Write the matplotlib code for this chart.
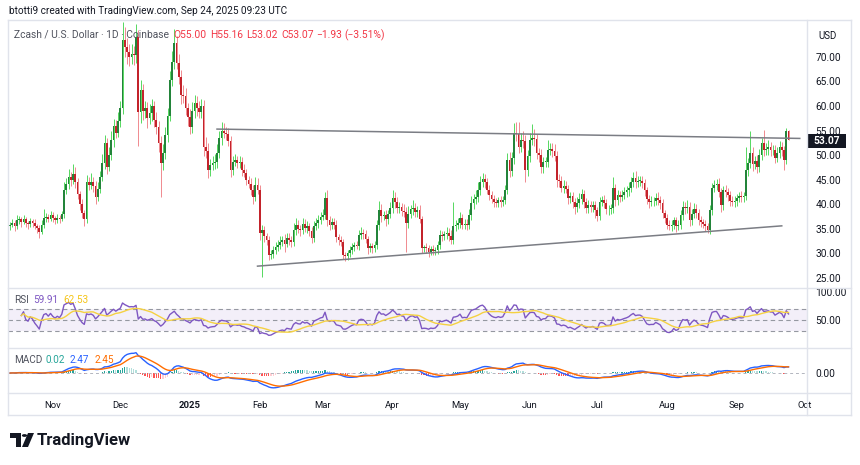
import matplotlib
matplotlib.use("Agg")
import matplotlib.pyplot as plt
import matplotlib.dates as mdates
from matplotlib.lines import Line2D
from matplotlib.patches import Rectangle, Polygon, Circle
import numpy as np
import pandas as pd

plt.rcParams['font.family'] = ['Roboto', 'DejaVu Sans']

# ---- data (daily Zcash / USD) ----
start_date = "2024-10-13"
first_open = 35.5
closes = [
    35.8, 36.2, 35.5, 36.8, 37.0, 36.4, 36.9, 36.1, 35.9, 36.5,
    36.2, 35.6, 35.1, 34.4, 35.8, 37.2, 37.5, 37.0, 37.8, 37.2,
    36.8, 37.3, 37.0, 38.0, 43.0, 44.2, 45.5, 45.0, 46.2, 44.5,
    42.0, 40.1, 38.2, 37.0, 44.5, 44.0, 44.6, 43.8, 41.5, 43.2,
    45.5, 48.4, 52.5, 47.6, 50.0, 53.0, 56.0, 54.5, 57.0, 59.5,
    73.5, 72.0, 71.0, 70.0, 70.5, 70.3, 74.0, 58.8, 63.3, 59.0,
    59.5, 57.5, 58.6, 60.0, 57.2, 55.7, 52.5, 48.4, 50.5, 54.0,
    58.0, 65.3, 69.0, 72.8, 68.8, 66.0, 62.3, 62.0, 59.5, 57.8,
    55.7, 59.0, 60.6, 59.5, 58.8, 60.0, 51.7, 50.9, 47.0, 48.0,
    48.4, 48.6, 50.5, 53.5, 55.0, 54.5, 54.2, 52.8, 47.0, 48.6,
    49.0, 48.4, 48.6, 47.0, 46.4, 45.0, 44.2, 43.0, 41.5, 44.0,
    43.0, 34.2, 34.8, 33.5, 32.7, 29.7, 29.9, 30.6, 31.3, 31.8,
    32.4, 32.7, 32.0, 33.2, 32.7, 32.4, 34.8, 35.8, 35.0, 34.8,
    36.0, 35.2, 35.5, 34.6, 33.1, 35.5, 36.2, 36.8, 37.5, 37.8,
    41.3, 36.8, 35.8, 36.4, 35.8, 33.3, 32.8, 32.3, 29.7, 29.5,
    30.0, 30.7, 31.3, 31.7, 31.5, 33.7, 34.2, 34.0, 33.0, 31.0,
    31.4, 31.0, 31.7, 35.8, 38.8, 37.6, 37.8, 37.0, 38.0, 39.2,
    41.3, 40.5, 39.2, 39.5, 38.7, 38.5, 36.2, 38.0, 39.0, 39.2,
    38.5, 38.8, 37.0, 31.0, 31.2, 31.0, 30.3, 30.8, 30.5, 30.7,
    31.7, 33.7, 33.5, 33.9, 34.2, 33.6, 32.8, 35.6, 35.8, 36.2,
    37.3, 35.8, 36.0, 35.8, 37.8, 40.3, 41.0, 41.5, 43.0, 44.5,
    45.2, 44.5, 43.0, 41.9, 41.0, 40.5, 40.3, 40.8, 40.5, 40.8,
    43.0, 49.0, 46.8, 49.4, 54.5, 54.3, 51.7, 53.0, 52.8, 47.0,
    49.8, 53.0, 53.5, 53.2, 50.4, 50.0, 47.6, 48.6, 48.7, 51.0,
    51.2, 50.8, 49.8, 45.0, 44.8, 43.4, 43.8, 43.2, 41.3, 41.6,
    40.5, 39.5, 40.3, 41.0, 42.0, 40.5, 39.2, 39.8, 39.5, 39.8,
    38.8, 37.7, 40.5, 40.8, 40.3, 39.0, 39.0, 39.2, 43.3, 40.8,
    41.9, 41.5, 41.9, 42.4, 42.8, 43.4, 44.5, 45.4, 44.5, 44.8,
    44.8, 44.3, 42.8, 41.0, 40.5, 40.6, 40.6, 41.3, 40.8, 40.2,
    38.2, 37.2, 35.8, 35.5, 35.8, 36.7, 35.5, 35.8, 37.8, 39.5,
    39.2, 39.5, 36.7, 38.0, 39.0, 38.3, 36.8, 36.3, 36.0, 35.5,
    34.8, 38.8, 43.3, 44.0, 44.2, 42.5, 39.8, 42.8, 42.5, 41.8,
    40.7, 40.5, 40.7, 41.3, 41.6, 41.4, 41.6, 47.0, 48.3, 50.4,
    48.2, 48.9, 47.5, 50.0, 52.5, 51.0, 51.2, 51.6, 51.0, 51.0,
    49.5, 50.5, 51.6, 51.0, 49.0, 55.0, 53.07,
]
# upper / lower wick length beyond the body
wick_up = [
    0.6, 0.8, 0.5, 1.0, 0.7, 0.5, 0.9, 0.6, 0.4, 0.8,
    0.5, 0.7, 0.4, 0.6, 0.9, 1.8, 0.8, 0.5, 0.9, 0.6,
    0.5, 0.8, 0.6, 0.7, 1.5, 1.2, 1.6, 1.0, 1.9, 1.4,
    0.8, 0.6, 0.9, 0.7, 1.5, 1.1, 1.7, 0.9, 1.0, 1.4,
    1.2, 1.8, 1.5, 1.0, 1.6, 1.9, 1.4, 1.2, 1.8, 1.5,
    3.5, 2.5, 1.8, 1.6, 2.2, 1.8, 2.6, 1.5, 1.9, 1.2,
    1.5, 1.3, 1.8, 1.4, 1.0, 1.6, 1.2, 1.3, 1.7, 1.8,
    1.6, 1.9, 2.2, 2.8, 1.5, 1.8, 1.4, 2.0, 1.6, 1.2,
    1.5, 1.8, 1.7, 1.4, 1.6, 1.4, 1.2, 1.9, 1.5, 1.3,
    1.4, 1.6, 1.7, 1.5, 1.8, 1.5, 1.2, 1.4, 1.0, 1.3,
    1.2, 0.9, 1.3, 1.0, 1.1, 0.8, 0.7, 1.2, 0.9, 1.6,
    1.4, 0.9, 1.0, 0.8, 0.6, 0.9, 0.7, 0.8, 1.0, 0.9,
    1.1, 0.8, 1.2, 0.9, 1.0, 0.8, 1.3, 1.5, 1.0, 0.8,
    1.2, 0.9, 1.0, 0.7, 0.8, 1.0, 0.9, 1.1, 1.0, 1.2,
    1.2, 1.5, 0.9, 0.8, 0.9, 1.0, 0.7, 0.8, 0.6, 0.5,
    0.7, 0.8, 0.9, 0.6, 0.9, 1.0, 1.2, 0.8, 0.7, 0.6,
    0.8, 0.7, 0.9, 1.0, 1.8, 1.2, 0.9, 1.0, 0.8, 1.2,
    1.5, 1.2, 0.9, 1.0, 0.8, 1.4, 1.0, 1.6, 0.9, 1.7,
    1.1, 0.8, 1.0, 0.7, 0.6, 0.9, 0.7, 0.8, 0.9, 0.6,
    0.8, 1.0, 0.9, 0.7, 1.1, 0.9, 1.2, 4.8, 0.9, 1.0,
    1.1, 0.8, 1.0, 0.9, 1.2, 1.3, 1.1, 1.4, 1.6, 1.2,
    1.2, 0.9, 0.8, 1.0, 0.7, 0.9, 0.8, 0.7, 0.9, 0.8,
    1.0, 1.5, 1.6, 1.2, 2.0, 2.2, 2.4, 1.6, 1.9, 1.3,
    1.2, 1.6, 2.8, 1.8, 1.2, 1.0, 1.3, 1.1, 1.0, 2.1,
    1.3, 1.2, 1.4, 1.0, 1.1, 0.9, 1.2, 1.0, 0.8, 0.9,
    0.9, 0.8, 1.1, 1.3, 1.2, 0.9, 0.8, 1.0, 0.8, 0.9,
    0.8, 0.7, 1.0, 0.9, 1.1, 0.8, 0.9, 0.8, 2.2, 0.9,
    1.0, 0.8, 0.9, 1.1, 1.0, 1.2, 1.1, 1.2, 1.4, 1.0,
    0.9, 1.0, 0.8, 0.7, 0.9, 1.0, 0.8, 0.9, 1.2, 0.8,
    0.9, 0.7, 0.8, 0.9, 1.0, 0.8, 0.7, 0.9, 1.1, 1.2,
    1.0, 1.3, 0.9, 1.1, 1.3, 1.0, 0.8, 0.9, 0.7, 0.8,
    0.6, 1.0, 1.1, 1.0, 0.9, 1.2, 0.8, 1.0, 1.1, 0.9,
    0.8, 0.9, 1.0, 0.8, 0.9, 1.0, 0.8, 4.7, 1.2, 4.6,
    1.2, 1.0, 1.1, 1.3, 1.0, 2.7, 1.2, 1.4, 1.0, 1.1,
    1.0, 1.2, 1.3, 1.0, 0.9, 0.5, 0.16,
]
wick_dn = [
    0.7, 0.5, 0.9, 0.6, 0.8, 1.0, 0.5, 0.7, 0.9, 0.6,
    0.8, 0.6, 0.9, 1.2, 0.5, 0.6, 0.9, 0.7, 0.5, 0.8,
    0.9, 0.6, 0.8, 0.5, 0.7, 0.9, 1.0, 1.2, 0.8, 1.1,
    0.9, 1.2, 1.0, 1.4, 0.8, 1.0, 0.9, 1.3, 1.5, 0.9,
    1.0, 0.8, 1.2, 1.5, 0.9, 1.0, 1.3, 1.1, 0.9, 1.2,
    1.2, 2.0, 2.5, 1.8, 1.5, 2.0, 1.6, 7.0, 2.2, 1.8,
    1.4, 1.9, 1.2, 1.6, 1.5, 1.4, 1.8, 7.0, 1.5, 1.2,
    1.4, 1.0, 1.3, 1.5, 1.2, 1.6, 1.8, 1.4, 1.3, 1.9,
    1.5, 1.2, 1.4, 1.6, 1.3, 1.2, 1.8, 1.5, 1.6, 1.2,
    1.0, 1.3, 1.2, 1.0, 1.4, 1.1, 1.2, 1.0, 1.5, 1.1,
    0.9, 1.1, 1.0, 1.3, 0.8, 1.0, 0.9, 1.2, 1.5, 0.8,
    1.0, 1.5, 9.0, 1.2, 1.0, 1.1, 0.8, 0.9, 0.7, 0.8,
    0.9, 1.0, 1.8, 0.8, 0.9, 1.1, 0.8, 1.0, 0.9, 1.2,
    0.8, 0.9, 1.0, 1.1, 0.9, 0.8, 0.7, 1.0, 0.9, 0.8,
    0.9, 1.2, 1.0, 0.8, 0.9, 1.0, 1.1, 0.9, 0.8, 1.0,
    0.8, 0.7, 0.9, 0.8, 0.7, 0.9, 0.8, 1.0, 0.9, 1.1,
    0.8, 0.9, 0.7, 0.8, 1.0, 1.2, 0.9, 1.4, 1.0, 0.8,
    1.0, 1.2, 1.0, 0.9, 1.1, 1.0, 6.0, 1.0, 0.9, 1.2,
    1.0, 1.1, 0.9, 1.0, 0.8, 0.9, 1.0, 0.7, 0.8, 0.9,
    0.8, 0.9, 1.0, 0.8, 0.9, 1.0, 0.8, 0.9, 1.0, 0.8,
    1.0, 0.9, 0.8, 1.1, 0.9, 1.0, 1.2, 0.9, 1.0, 1.1,
    1.0, 1.2, 0.9, 1.1, 0.8, 1.0, 0.9, 0.8, 1.0, 0.9,
    0.8, 1.0, 1.2, 1.0, 1.3, 1.5, 1.2, 1.1, 1.4, 2.5,
    1.3, 1.2, 1.0, 1.4, 1.1, 1.5, 1.2, 1.3, 1.0, 1.2,
    1.0, 1.2, 0.9, 1.4, 1.2, 1.0, 1.1, 0.9, 1.3, 1.0,
    1.2, 1.4, 1.0, 1.1, 0.9, 1.2, 1.0, 0.9, 1.1, 1.0,
    1.6, 1.2, 1.0, 0.9, 1.1, 1.0, 1.2, 0.9, 1.0, 1.1,
    0.9, 1.0, 0.8, 0.9, 1.0, 1.1, 0.9, 1.0, 1.1, 0.9,
    1.0, 0.9, 1.1, 1.0, 1.2, 0.9, 1.0, 0.8, 0.9, 1.1,
    1.0, 1.1, 0.9, 0.8, 1.0, 0.9, 1.1, 0.8, 0.9, 1.0,
    1.1, 0.9, 1.2, 1.0, 0.9, 1.1, 1.0, 0.9, 0.8, 1.0,
    0.7, 0.8, 1.0, 0.9, 1.1, 1.0, 1.4, 0.9, 1.0, 1.1,
    1.0, 0.9, 1.1, 1.0, 0.8, 0.9, 1.0, 0.8, 1.2, 1.0,
    1.4, 1.0, 1.2, 1.0, 0.9, 1.1, 1.0, 1.2, 1.1, 1.0,
    1.2, 0.9, 1.0, 1.1, 2.0, 0.8, 0.05,
]

# trend lines drawn on the chart (date, price)
upper_line_dates = ["2025-01-13", "2025-09-29"]
upper_line_prices = [55.3, 53.4]
lower_line_dates = ["2025-01-31", "2025-09-21"]
lower_line_prices = [27.4, 35.6]

price_ticks = [25, 30, 35, 40, 45, 50, 55, 60, 65, 70]
month_ticks = ["2024-11-01", "2024-12-01", "2025-01-01", "2025-02-01", "2025-03-01",
               "2025-04-01", "2025-05-01", "2025-06-01", "2025-07-01", "2025-08-01",
               "2025-09-01", "2025-10-01"]
month_labels = ["Nov", "Dec", "2025", "Feb", "Mar", "Apr", "May", "Jun", "Jul", "Aug", "Sep", "Oct"]

# ---- derived ----
c = np.array(closes)
o = np.concatenate([[first_open], c[:-1]])
hi = np.maximum(o, c) + np.array(wick_up)
lo = np.minimum(o, c) - np.array(wick_dn)
dates = pd.date_range(start_date, periods=len(c), freq="D")
x = mdates.date2num(dates)
up = c >= o

s = pd.Series(c)
d = s.diff()
gain = d.clip(lower=0).ewm(alpha=1 / 14, adjust=True).mean()
loss = (-d.clip(upper=0)).ewm(alpha=1 / 14, adjust=True).mean()
rsi = 100 - 100 / (1 + gain / loss)
rsi[:5] = np.nan  # no history before the first candle
rsi_ma = rsi.rolling(14, min_periods=1).mean()
macd = s.ewm(span=12, adjust=False).mean() - s.ewm(span=26, adjust=False).mean()
signal = macd.ewm(span=9, adjust=False).mean()
hist = macd - signal

W, H = 860, 465
fig = plt.figure(figsize=(W / 100, H / 100), dpi=100)
fig.patch.set_facecolor("white")


def rect(x0, y0, x1, y1):
    return [x0 / W, 1 - y1 / H, (x1 - x0) / W, (y1 - y0) / H]


def fp(px, py):
    return (px / W, 1 - py / H)


ax = fig.add_axes(rect(8, 22, 807, 288))
ax_rsi = fig.add_axes(rect(8, 288, 807, 348), sharex=ax)
ax_macd = fig.add_axes(rect(8, 348, 807, 393), sharex=ax)

GREEN_B, GREEN_W = "#23843a", "#55d860"
RED_B, RED_W = "#c3232b", "#f08a8f"

wc = np.where(up, GREEN_W, RED_W)
bc = np.where(up, GREEN_B, RED_B)
ax.vlines(x, lo, hi, colors=wc, linewidth=0.7, zorder=2)
body = np.maximum(np.abs(c - o), 0.12)
ax.bar(x, body, bottom=np.minimum(o, c), width=0.72, color=bc, linewidth=0, zorder=3)

ax.plot(mdates.datestr2num(upper_line_dates), upper_line_prices, color="#7b7d84", lw=1.1, zorder=4)
ax.plot(mdates.datestr2num(lower_line_dates), lower_line_prices, color="#7b7d84", lw=1.1, zorder=4)

x_left = x[0] - 0.9
x_right = x[0] + (807 - 10) / 2.25
ax.set_xlim(x_left, x_right)
ax.set_ylim(22.95, 77.1)

for a in (ax, ax_rsi, ax_macd):
    for sp in a.spines.values():
        sp.set_visible(False)
    a.yaxis.tick_right()
    a.tick_params(axis="y", length=0, pad=6, labelsize=7.3, labelcolor="#131722")
    a.tick_params(axis="x", length=0)
    a.set_facecolor("white")

ax.set_yticks(price_ticks)
ax.set_yticklabels(["%.2f" % v for v in price_ticks])
ax.tick_params(axis="x", labelbottom=False)
ax_rsi.tick_params(axis="x", labelbottom=False)

# RSI pane
ax_rsi.axhspan(30, 70, color="#7e57c2", alpha=0.09, lw=0)
for lvl in (70, 50, 30):
    ax_rsi.axhline(lvl, color="#9598a1", lw=0.8, ls=(0, (4, 3)))
ax_rsi.plot(x, rsi, color="#7e57c2", lw=1.0)
ax_rsi.plot(x, rsi_ma, color="#f5d142", lw=1.0)
ax_rsi.set_ylim(-0.5, 107.7)
ax_rsi.set_yticks([50, 100])
ax_rsi.set_yticklabels(["50.00", "100.00"])

# MACD pane
hc = []
for i in range(len(hist)):
    prev = hist[i - 1] if i > 0 else 0
    if hist[i] >= 0:
        hc.append("#26a69a" if hist[i] >= prev else "#b2dfdb")
    else:
        hc.append("#ff5252" if hist[i] < prev else "#ffcdd2")
ax_macd.bar(x, hist, width=0.6, color=hc, linewidth=0)
ax_macd.axhline(0, color="#b2b5be", lw=0.7, ls=(0, (3, 3)))
ax_macd.plot(x, macd, color="#2962ff", lw=1.0)
ax_macd.plot(x, signal, color="#ff6d00", lw=1.0)
top = float(np.nanmax(macd)) * 25 / 20.3
ax_macd.set_ylim(-top * 20 / 25, top)
ax_macd.set_yticks([0])
ax_macd.set_yticklabels(["0.00"])

ax_macd.set_xticks(mdates.datestr2num(month_ticks))
ax_macd.set_xticklabels(month_labels)
ax_macd.tick_params(axis="x", labelsize=6.8, labelcolor="#131722", pad=6)
for t in ax_macd.get_xticklabels():
    if t.get_text() == "2025":
        t.set_fontweight("bold")

# frame lines
grey = "#e0e3eb"
for (x0, y0, x1, y1) in [(8, 20, 851, 20), (8, 415, 851, 415), (8, 20, 8, 415), (851, 20, 851, 415),
                         (807, 20, 807, 415), (8, 288, 851, 288), (8, 348, 851, 348), (8, 393, 851, 393)]:
    fig.add_artist(Line2D([x0 / W, x1 / W], [1 - y0 / H, 1 - y1 / H], color=grey, lw=1.0))

# texts
fig.text(*fp(9, 11), "btotti9 created with TradingView.com, Sep 24, 2025 09:23 UTC",
         fontsize=7.2, color="#131722", va="center")
fig.text(*fp(14, 35), "Zcash / U.S. Dollar · 1D · Coinbase", fontsize=7.4, color="#50535e", va="center")
red = "#f23645"
for px, txt in [(173, "O55.00"), (210, "H55.16"), (246, "L53.02"), (281, "C53.07"),
                (316, "−1.93"), (344, "(−3.51%)")]:
    fig.text(*fp(px, 35), txt, fontsize=7.4, color=red, va="center")
fig.text(*fp(818, 36), "USD", fontsize=7.0, color="#131722", va="center")

fig.text(*fp(14, 300), "RSI", fontsize=7.2, color="#50535e", va="center")
fig.text(*fp(33, 300), "59.91", fontsize=7.2, color="#7e57c2", va="center")
fig.text(*fp(63, 300), "62.53", fontsize=7.2, color="#f5c518", va="center")
fig.text(*fp(14, 360), "MACD", fontsize=7.2, color="#50535e", va="center")
fig.text(*fp(45, 360), "0.02", fontsize=7.2, color="#26a69a", va="center")
fig.text(*fp(70, 360), "2.47", fontsize=7.2, color="#2962ff", va="center")
fig.text(*fp(95, 360), "2.45", fontsize=7.2, color="#ff6d00", va="center")

# last price label
fig.add_artist(Rectangle(fp(808, 148), 38 / W, 14 / H, transform=fig.transFigure,
                         color="#131722", lw=0))
fig.text(*fp(827, 141), "53.07", fontsize=7.4, color="white", fontweight="bold",
         ha="center", va="center")

# TradingView logo + wordmark
logo = [
    Polygon([fp(10, 433), fp(21, 433), fp(21, 447), fp(16, 447), fp(16, 438), fp(10, 438)], closed=True),
    Circle(fp(24.5, 435.5), 2.6 / W),
    Polygon([fp(28, 433), fp(34, 433), fp(28, 447), fp(22, 447)], closed=True),
]
for p in logo:
    p.set_transform(fig.transFigure)
    p.set_facecolor("#131722")
    p.set_edgecolor("none")
    fig.add_artist(p)
fig.text(*fp(37, 440), "TradingView", fontsize=12, fontweight="bold", color="#131722", va="center")

fig.savefig("out.png", dpi=100, facecolor="white")
